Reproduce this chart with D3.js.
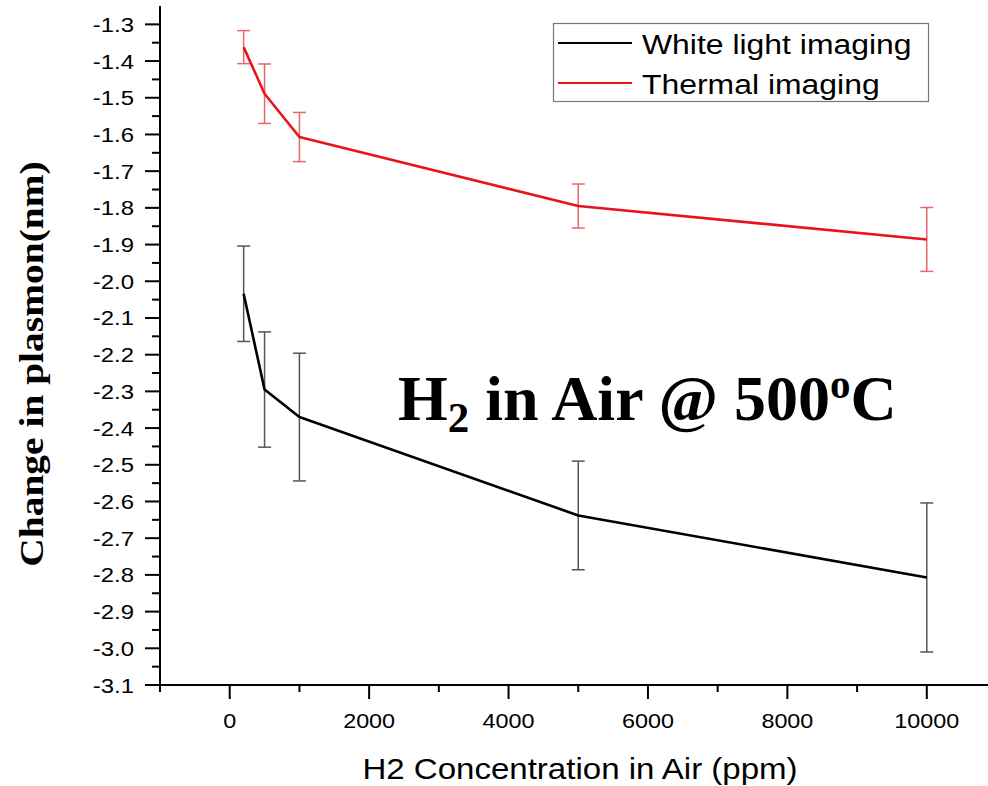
<!DOCTYPE html>
<html><head><meta charset="utf-8">
<script src="https://cdn.jsdelivr.net/npm/d3@7"></script>
<style>body{margin:0;background:#fff}svg{display:block}</style>
</head><body>
<script>
const concentrations = [200, 500, 1000, 5000, 10000];
const whiteLight = [-2.034, -2.295, -2.370, -2.638, -2.807];
const whiteLightErr = [0.130, 0.157, 0.174, 0.148, 0.203];
const thermal = [-1.362, -1.489, -1.607, -1.795, -1.886];
const thermalErr = [0.045, 0.081, 0.067, 0.060, 0.087];
const seriesNames = ["White light imaging", "Thermal imaging"];
const yTicks = [-1.3,-1.4,-1.5,-1.6,-1.7,-1.8,-1.9,-2.0,-2.1,-2.2,-2.3,-2.4,-2.5,-2.6,-2.7,-2.8,-2.9,-3.0,-3.1];
const xTicks = [0, 2000, 4000, 6000, 8000, 10000];
const xTitle = "H2 Concentration in Air (ppm)";
const yTitle = "Change in plasmon(nm)";

const W = 988, H = 786;
const svg = d3.select("body").append("svg").attr("width", W).attr("height", H);
const x = d3.scaleLinear().domain([-1000, 11000]).range([160, 996.5]);
const y = d3.scaleLinear().domain([-3.1, -1.25]).range([685, 6]);
const SX = 1.14;
const sans = "'Liberation Sans', Arial, sans-serif";
const serif = "'Liberation Serif', 'Times New Roman', serif";

function txt(g, str, px, py, size, anchor, opts = {}) {
  const t = g.append("text")
    .attr("transform", `translate(${px},${py}) ${opts.rotate ? "rotate(" + opts.rotate + ")" : ""} scale(${opts.sx || SX},1)`)
    .attr("text-anchor", anchor)
    .attr("font-family", opts.family || sans)
    .attr("font-size", size)
    .attr("font-weight", opts.weight || "normal")
    .attr("fill", "#000")
    .text(str);
  if (opts.dy) t.attr("dy", opts.dy);
  return t;
}

const axes = svg.append("g");
axes.append("line").attr("x1", x(-1000)).attr("x2", x(-1000)).attr("y1", y(-1.25)).attr("y2", y(-3.1))
  .attr("stroke", "#000").attr("stroke-width", 2);
axes.append("line").attr("x1", x(-1000) - 1).attr("x2", W).attr("y1", y(-3.1)).attr("y2", y(-3.1))
  .attr("stroke", "#000").attr("stroke-width", 2);

const yMinor = d3.range(0, 19).map(i => -1.35 - i * 0.1).filter(v => v > -3.1);
yTicks.forEach(v => {
  axes.append("line").attr("x1", x(-1000) - 15).attr("x2", x(-1000)).attr("y1", y(v)).attr("y2", y(v))
    .attr("stroke", "#000").attr("stroke-width", 2);
  txt(axes, v.toFixed(1), x(-1000) - 26, y(v) + 7.5, 21, "end");
});
yMinor.forEach(v => {
  axes.append("line").attr("x1", x(-1000) - 8).attr("x2", x(-1000)).attr("y1", y(v)).attr("y2", y(v))
    .attr("stroke", "#000").attr("stroke-width", 2);
});
const xMinor = [-1000, 1000, 3000, 5000, 7000, 9000];
xTicks.forEach(v => {
  axes.append("line").attr("x1", x(v)).attr("x2", x(v)).attr("y1", y(-3.1)).attr("y2", y(-3.1) + 14)
    .attr("stroke", "#000").attr("stroke-width", 2);
  txt(axes, String(v), x(v), 728, 20.5, "middle");
});
xMinor.forEach(v => {
  axes.append("line").attr("x1", x(v)).attr("x2", x(v)).attr("y1", y(-3.1)).attr("y2", y(-3.1) + 7)
    .attr("stroke", "#000").attr("stroke-width", 2);
});

txt(svg, xTitle, 580, 779, 29, "middle");
txt(svg, yTitle, 43, 364, 34, "middle", {rotate: -90, family: serif, weight: "bold", sx: 1.16});

const series = [
  {vals: whiteLight, err: whiteLightErr, color: "#000", errColor: "#555"},
  {vals: thermal, err: thermalErr, color: "#e8141b", errColor: "#e8666c"}
];
const plot = svg.append("g");
series.forEach(s => {
  const eg = plot.append("g").attr("stroke", s.errColor).attr("stroke-width", 1.5).attr("fill", "none");
  concentrations.forEach((c, i) => {
    const cx = x(c), y0 = y(s.vals[i] + s.err[i]), y1 = y(s.vals[i] - s.err[i]);
    eg.append("line").attr("x1", cx).attr("x2", cx).attr("y1", y0).attr("y2", y1);
    eg.append("line").attr("x1", cx - 6.5).attr("x2", cx + 6.5).attr("y1", y0).attr("y2", y0);
    eg.append("line").attr("x1", cx - 6.5).attr("x2", cx + 6.5).attr("y1", y1).attr("y2", y1);
  });
  plot.append("path")
    .datum(concentrations.map((c, i) => [c, s.vals[i]]))
    .attr("d", d3.line().x(d => x(d[0])).y(d => y(d[1])))
    .attr("fill", "none").attr("stroke", s.color).attr("stroke-width", 2.6).attr("stroke-linejoin", "round");
});

const lg = svg.append("g");
lg.append("rect").attr("x", 553.5).attr("y", 23.5).attr("width", 375).attr("height", 78)
  .attr("fill", "#fff").attr("stroke", "#777").attr("stroke-width", 1.2);
series.forEach((s, i) => {
  const ly = 43 + i * 40;
  lg.append("line").attr("x1", 558).attr("x2", 632).attr("y1", ly).attr("y2", ly)
    .attr("stroke", s.color).attr("stroke-width", 2);
  txt(lg, seriesNames[i], 642, ly + 11, 28, "start");
});

const ann = svg.append("text").attr("x", 398).attr("y", 420)
  .attr("font-family", serif).attr("font-weight", "bold").attr("font-size", 64).attr("fill", "#000");
ann.append("tspan").text("H");
ann.append("tspan").attr("font-size", 43).attr("dy", 12).text("2");
ann.append("tspan").attr("dy", -12).text(" in Air @ 500");
ann.append("tspan").attr("font-size", 41).attr("dy", -22).text("o");
ann.append("tspan").attr("dy", 22).text("C");
</script>
</body></html>
